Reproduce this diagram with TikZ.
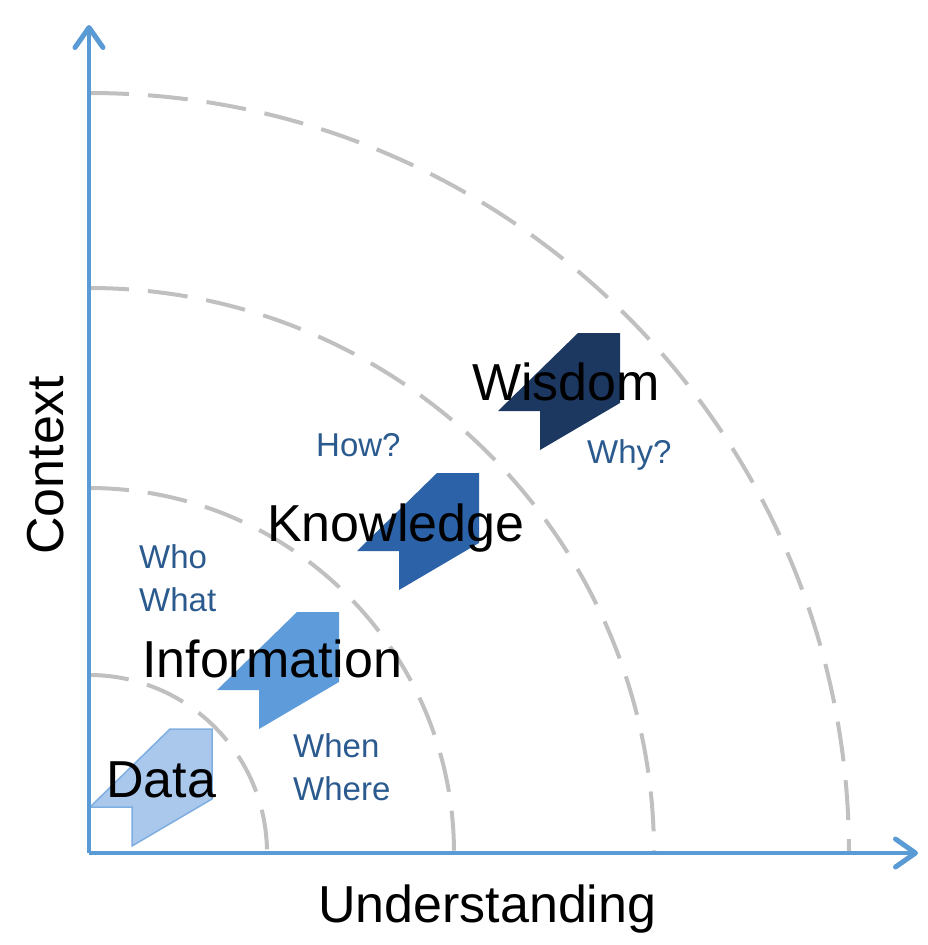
\documentclass[tikz,border=0pt]{standalone}
\usepackage{fontspec}
\setmainfont{Liberation Sans}
\usetikzlibrary{arrows.meta}
\definecolor{axisblue}{HTML}{5B9BD5}
\definecolor{datafill}{HTML}{A9C8EC}
\definecolor{dataedge}{HTML}{7FAEE0}
\definecolor{infofill}{HTML}{5D9BDA}
\definecolor{knowfill}{HTML}{2C63A8}
\definecolor{wisfill}{HTML}{1C3760}
\definecolor{textblue}{HTML}{2B5A8E}
\definecolor{arcgray}{HTML}{C0C0C0}
\tikzset{
  axisline/.style={draw=axisblue, line width=4pt, -{Straight Barb[length=20pt,width=28pt,line width=5pt,round]}},
  ring/.style={draw=arcgray, line width=4pt, dash pattern=on 40pt off 19pt},
  bigtext/.style={inner sep=0pt, anchor=base west, font=\fontsize{52}{60}\selectfont, text=black},
  smalltext/.style={inner sep=0pt, anchor=base west, font=\fontsize{33}{43}\selectfont, text=textblue, align=left},
  stepshape/.pic={
    \path[pic actions] (0,0) -- (42,0) -- (42,70) -- (-38,117) -- (-38,78) -- (-80,78) -- cycle;
  }
}
\begin{document}
\begin{tikzpicture}[x=1pt,y=-1pt]
\useasboundingbox (0,0) rectangle (928,945);
\coordinate (O) at (89,853);
\coordinate (ytip) at (89,25);
\coordinate (xtip) at (918,853);
% rings
\foreach \r in {178,365,565,760}{
  \draw[ring] (89,853-\r) arc[start angle=-90, end angle=0, radius=\r];
}
% steps
\pic[fill=datafill, draw=dataedge, line width=1.5pt] at (170,729) {stepshape};
\pic[fill=infofill] at (297,612) {stepshape};
\pic[fill=knowfill] at (437,473) {stepshape};
\pic[fill=wisfill] at (578,333) {stepshape};
% axes
\draw[axisline] (O) -- (ytip);
\draw[axisline] (O) -- (xtip);
% texts
\node[bigtext] (data) at (106,797) {Data};
\node[bigtext] (info) at (142,677) {Information};
\node[bigtext] (know) at (267,541) {Knowledge};
\node[bigtext] (wis) at (472,400) {Wisdom};
\node[smalltext] (who) at (139,611) {Who\\What};
\node[smalltext] (how) at (316,456) {How?};
\node[smalltext] (why) at (587,463) {Why?};
\node[smalltext] (when) at (293,800) {When\\Where};
\node[bigtext, rotate=90] (ctx) at (63,555) {Context};
\node[bigtext] (und) at (318,922) {Understanding};
\end{tikzpicture}
\end{document}
